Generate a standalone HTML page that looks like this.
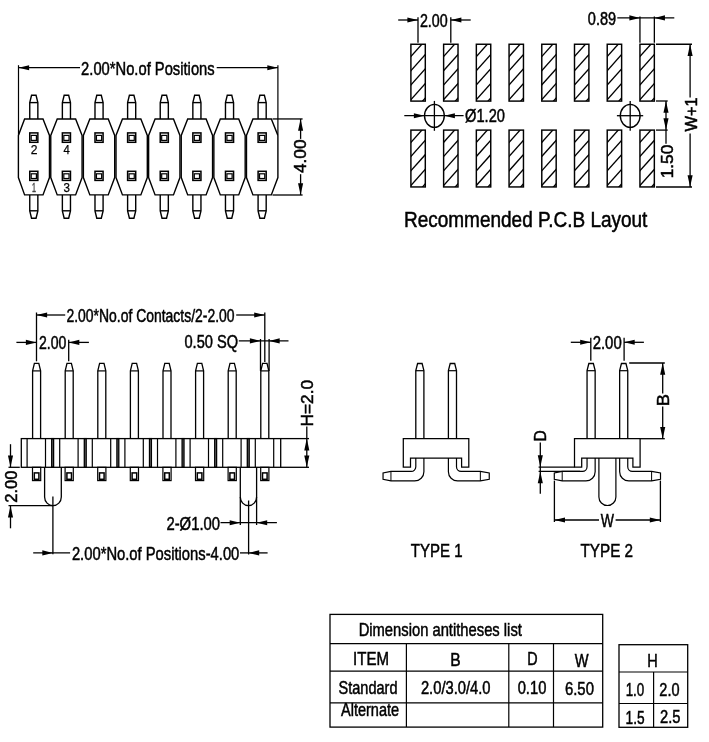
<!DOCTYPE html>
<html><head><meta charset="utf-8"><title>Pin header drawing</title>
<style>html,body{margin:0;padding:0;background:#fff}svg{display:block;will-change:transform;opacity:0.999}text{font-family:"Liberation Sans",Arial,sans-serif;stroke:#000;stroke-width:0.5px}</style>
</head><body>
<svg width="709" height="742" viewBox="0 0 709 742">
<rect width="709" height="742" fill="#fff"/>
<path d="M24.60 118.95 L43.00 118.95 L49.46 135.50 L49.46 177.60 L43.00 194.90 L24.60 194.90 L18.40 177.60 L18.40 135.50 Z" fill="none" stroke="#000" stroke-width="1.4" stroke-linejoin="miter"/>
<path d="M29.75 118.95 L29.75 102.60 L31.55 95.30 L36.05 95.30 L37.85 102.60 L37.85 118.95" fill="none" stroke="#000" stroke-width="1.4" stroke-linejoin="miter"/>
<line x1="29.75" y1="102.60" x2="37.85" y2="102.60" stroke="#000" stroke-width="1.4"/>
<path d="M29.75 194.90 L29.75 210.80 L31.55 218.20 L36.05 218.20 L37.85 210.80 L37.85 194.90" fill="none" stroke="#000" stroke-width="1.4" stroke-linejoin="miter"/>
<line x1="29.75" y1="210.80" x2="37.85" y2="210.80" stroke="#000" stroke-width="1.4"/>
<rect x="29.75" y="132.90" width="8.10" height="9.40" fill="#fff" stroke="#000" stroke-width="1.5"/>
<rect x="31.20" y="135.40" width="5.20" height="5.00" fill="#fff" stroke="#000" stroke-width="1.2"/>
<rect x="29.75" y="171.30" width="8.10" height="9.10" fill="#fff" stroke="#000" stroke-width="1.5"/>
<rect x="31.20" y="173.80" width="5.20" height="4.70" fill="#fff" stroke="#000" stroke-width="1.2"/>
<path d="M57.22 118.95 L75.62 118.95 L82.08 135.50 L82.08 177.60 L75.62 194.90 L57.22 194.90 L50.76 177.60 L50.76 135.50 Z" fill="none" stroke="#000" stroke-width="1.4" stroke-linejoin="miter"/>
<path d="M62.37 118.95 L62.37 102.60 L64.17 95.30 L68.67 95.30 L70.47 102.60 L70.47 118.95" fill="none" stroke="#000" stroke-width="1.4" stroke-linejoin="miter"/>
<line x1="62.37" y1="102.60" x2="70.47" y2="102.60" stroke="#000" stroke-width="1.4"/>
<path d="M62.37 194.90 L62.37 210.80 L64.17 218.20 L68.67 218.20 L70.47 210.80 L70.47 194.90" fill="none" stroke="#000" stroke-width="1.4" stroke-linejoin="miter"/>
<line x1="62.37" y1="210.80" x2="70.47" y2="210.80" stroke="#000" stroke-width="1.4"/>
<rect x="62.37" y="132.90" width="8.10" height="9.40" fill="#fff" stroke="#000" stroke-width="1.5"/>
<rect x="63.82" y="135.40" width="5.20" height="5.00" fill="#fff" stroke="#000" stroke-width="1.2"/>
<rect x="62.37" y="171.30" width="8.10" height="9.10" fill="#fff" stroke="#000" stroke-width="1.5"/>
<rect x="63.82" y="173.80" width="5.20" height="4.70" fill="#fff" stroke="#000" stroke-width="1.2"/>
<path d="M89.84 118.95 L108.24 118.95 L114.70 135.50 L114.70 177.60 L108.24 194.90 L89.84 194.90 L83.38 177.60 L83.38 135.50 Z" fill="none" stroke="#000" stroke-width="1.4" stroke-linejoin="miter"/>
<path d="M94.99 118.95 L94.99 102.60 L96.79 95.30 L101.29 95.30 L103.09 102.60 L103.09 118.95" fill="none" stroke="#000" stroke-width="1.4" stroke-linejoin="miter"/>
<line x1="94.99" y1="102.60" x2="103.09" y2="102.60" stroke="#000" stroke-width="1.4"/>
<path d="M94.99 194.90 L94.99 210.80 L96.79 218.20 L101.29 218.20 L103.09 210.80 L103.09 194.90" fill="none" stroke="#000" stroke-width="1.4" stroke-linejoin="miter"/>
<line x1="94.99" y1="210.80" x2="103.09" y2="210.80" stroke="#000" stroke-width="1.4"/>
<rect x="94.99" y="132.90" width="8.10" height="9.40" fill="#fff" stroke="#000" stroke-width="1.5"/>
<rect x="96.44" y="135.40" width="5.20" height="5.00" fill="#fff" stroke="#000" stroke-width="1.2"/>
<rect x="94.99" y="171.30" width="8.10" height="9.10" fill="#fff" stroke="#000" stroke-width="1.5"/>
<rect x="96.44" y="173.80" width="5.20" height="4.70" fill="#fff" stroke="#000" stroke-width="1.2"/>
<path d="M122.46 118.95 L140.86 118.95 L147.32 135.50 L147.32 177.60 L140.86 194.90 L122.46 194.90 L116.00 177.60 L116.00 135.50 Z" fill="none" stroke="#000" stroke-width="1.4" stroke-linejoin="miter"/>
<path d="M127.61 118.95 L127.61 102.60 L129.41 95.30 L133.91 95.30 L135.71 102.60 L135.71 118.95" fill="none" stroke="#000" stroke-width="1.4" stroke-linejoin="miter"/>
<line x1="127.61" y1="102.60" x2="135.71" y2="102.60" stroke="#000" stroke-width="1.4"/>
<path d="M127.61 194.90 L127.61 210.80 L129.41 218.20 L133.91 218.20 L135.71 210.80 L135.71 194.90" fill="none" stroke="#000" stroke-width="1.4" stroke-linejoin="miter"/>
<line x1="127.61" y1="210.80" x2="135.71" y2="210.80" stroke="#000" stroke-width="1.4"/>
<rect x="127.61" y="132.90" width="8.10" height="9.40" fill="#fff" stroke="#000" stroke-width="1.5"/>
<rect x="129.06" y="135.40" width="5.20" height="5.00" fill="#fff" stroke="#000" stroke-width="1.2"/>
<rect x="127.61" y="171.30" width="8.10" height="9.10" fill="#fff" stroke="#000" stroke-width="1.5"/>
<rect x="129.06" y="173.80" width="5.20" height="4.70" fill="#fff" stroke="#000" stroke-width="1.2"/>
<path d="M155.08 118.95 L173.48 118.95 L179.94 135.50 L179.94 177.60 L173.48 194.90 L155.08 194.90 L148.62 177.60 L148.62 135.50 Z" fill="none" stroke="#000" stroke-width="1.4" stroke-linejoin="miter"/>
<path d="M160.23 118.95 L160.23 102.60 L162.03 95.30 L166.53 95.30 L168.33 102.60 L168.33 118.95" fill="none" stroke="#000" stroke-width="1.4" stroke-linejoin="miter"/>
<line x1="160.23" y1="102.60" x2="168.33" y2="102.60" stroke="#000" stroke-width="1.4"/>
<path d="M160.23 194.90 L160.23 210.80 L162.03 218.20 L166.53 218.20 L168.33 210.80 L168.33 194.90" fill="none" stroke="#000" stroke-width="1.4" stroke-linejoin="miter"/>
<line x1="160.23" y1="210.80" x2="168.33" y2="210.80" stroke="#000" stroke-width="1.4"/>
<rect x="160.23" y="132.90" width="8.10" height="9.40" fill="#fff" stroke="#000" stroke-width="1.5"/>
<rect x="161.68" y="135.40" width="5.20" height="5.00" fill="#fff" stroke="#000" stroke-width="1.2"/>
<rect x="160.23" y="171.30" width="8.10" height="9.10" fill="#fff" stroke="#000" stroke-width="1.5"/>
<rect x="161.68" y="173.80" width="5.20" height="4.70" fill="#fff" stroke="#000" stroke-width="1.2"/>
<path d="M187.70 118.95 L206.10 118.95 L212.56 135.50 L212.56 177.60 L206.10 194.90 L187.70 194.90 L181.24 177.60 L181.24 135.50 Z" fill="none" stroke="#000" stroke-width="1.4" stroke-linejoin="miter"/>
<path d="M192.85 118.95 L192.85 102.60 L194.65 95.30 L199.15 95.30 L200.95 102.60 L200.95 118.95" fill="none" stroke="#000" stroke-width="1.4" stroke-linejoin="miter"/>
<line x1="192.85" y1="102.60" x2="200.95" y2="102.60" stroke="#000" stroke-width="1.4"/>
<path d="M192.85 194.90 L192.85 210.80 L194.65 218.20 L199.15 218.20 L200.95 210.80 L200.95 194.90" fill="none" stroke="#000" stroke-width="1.4" stroke-linejoin="miter"/>
<line x1="192.85" y1="210.80" x2="200.95" y2="210.80" stroke="#000" stroke-width="1.4"/>
<rect x="192.85" y="132.90" width="8.10" height="9.40" fill="#fff" stroke="#000" stroke-width="1.5"/>
<rect x="194.30" y="135.40" width="5.20" height="5.00" fill="#fff" stroke="#000" stroke-width="1.2"/>
<rect x="192.85" y="171.30" width="8.10" height="9.10" fill="#fff" stroke="#000" stroke-width="1.5"/>
<rect x="194.30" y="173.80" width="5.20" height="4.70" fill="#fff" stroke="#000" stroke-width="1.2"/>
<path d="M220.32 118.95 L238.72 118.95 L245.18 135.50 L245.18 177.60 L238.72 194.90 L220.32 194.90 L213.86 177.60 L213.86 135.50 Z" fill="none" stroke="#000" stroke-width="1.4" stroke-linejoin="miter"/>
<path d="M225.47 118.95 L225.47 102.60 L227.27 95.30 L231.77 95.30 L233.57 102.60 L233.57 118.95" fill="none" stroke="#000" stroke-width="1.4" stroke-linejoin="miter"/>
<line x1="225.47" y1="102.60" x2="233.57" y2="102.60" stroke="#000" stroke-width="1.4"/>
<path d="M225.47 194.90 L225.47 210.80 L227.27 218.20 L231.77 218.20 L233.57 210.80 L233.57 194.90" fill="none" stroke="#000" stroke-width="1.4" stroke-linejoin="miter"/>
<line x1="225.47" y1="210.80" x2="233.57" y2="210.80" stroke="#000" stroke-width="1.4"/>
<rect x="225.47" y="132.90" width="8.10" height="9.40" fill="#fff" stroke="#000" stroke-width="1.5"/>
<rect x="226.92" y="135.40" width="5.20" height="5.00" fill="#fff" stroke="#000" stroke-width="1.2"/>
<rect x="225.47" y="171.30" width="8.10" height="9.10" fill="#fff" stroke="#000" stroke-width="1.5"/>
<rect x="226.92" y="173.80" width="5.20" height="4.70" fill="#fff" stroke="#000" stroke-width="1.2"/>
<path d="M252.94 118.95 L271.34 118.95 L277.90 135.50 L277.90 177.60 L271.34 194.90 L252.94 194.90 L246.48 177.60 L246.48 135.50 Z" fill="none" stroke="#000" stroke-width="1.4" stroke-linejoin="miter"/>
<path d="M258.09 118.95 L258.09 102.60 L259.89 95.30 L264.39 95.30 L266.19 102.60 L266.19 118.95" fill="none" stroke="#000" stroke-width="1.4" stroke-linejoin="miter"/>
<line x1="258.09" y1="102.60" x2="266.19" y2="102.60" stroke="#000" stroke-width="1.4"/>
<path d="M258.09 194.90 L258.09 210.80 L259.89 218.20 L264.39 218.20 L266.19 210.80 L266.19 194.90" fill="none" stroke="#000" stroke-width="1.4" stroke-linejoin="miter"/>
<line x1="258.09" y1="210.80" x2="266.19" y2="210.80" stroke="#000" stroke-width="1.4"/>
<rect x="258.09" y="132.90" width="8.10" height="9.40" fill="#fff" stroke="#000" stroke-width="1.5"/>
<rect x="259.54" y="135.40" width="5.20" height="5.00" fill="#fff" stroke="#000" stroke-width="1.2"/>
<rect x="258.09" y="171.30" width="8.10" height="9.10" fill="#fff" stroke="#000" stroke-width="1.5"/>
<rect x="259.54" y="173.80" width="5.20" height="4.70" fill="#fff" stroke="#000" stroke-width="1.2"/>
<text x="30.65" y="154.00" font-size="12.5" textLength="6.72" lengthAdjust="spacingAndGlyphs" fill="#000" style="stroke-width:0.25px;stroke:#000">2</text>
<text x="63.60" y="154.00" font-size="12.5" textLength="6.28" lengthAdjust="spacingAndGlyphs" fill="#000" style="stroke-width:0.25px;stroke:#000">4</text>
<text x="31.91" y="192.00" font-size="12.5" textLength="3.99" lengthAdjust="spacingAndGlyphs" fill="#444" style="stroke-width:0.4px;stroke:#444">1</text>
<text x="63.62" y="192.00" font-size="12.5" textLength="6.44" lengthAdjust="spacingAndGlyphs" fill="#000" style="stroke-width:0.25px;stroke:#000">3</text>
<line x1="18.50" y1="65.20" x2="18.50" y2="134.80" stroke="#000" stroke-width="1.2"/>
<line x1="277.90" y1="65.20" x2="277.90" y2="134.80" stroke="#000" stroke-width="1.2"/>
<line x1="18.50" y1="67.70" x2="80.00" y2="67.70" stroke="#000" stroke-width="1.3"/>
<line x1="216.70" y1="67.70" x2="277.90" y2="67.70" stroke="#000" stroke-width="1.3"/>
<polygon points="18.50,67.70 29.10,65.15 29.10,70.25" fill="#000"/>
<polygon points="277.90,67.70 267.30,65.15 267.30,70.25" fill="#000"/>
<text x="81.11" y="74.70" font-size="18.3" textLength="133.54" lengthAdjust="spacingAndGlyphs" fill="#000">2.00*No.of Positions</text>
<line x1="272.50" y1="118.95" x2="302.60" y2="118.95" stroke="#000" stroke-width="1.3"/>
<line x1="272.50" y1="195.00" x2="302.60" y2="195.00" stroke="#000" stroke-width="1.3"/>
<line x1="300.60" y1="118.95" x2="300.60" y2="138.90" stroke="#000" stroke-width="1.3"/>
<line x1="300.60" y1="174.20" x2="300.60" y2="195.00" stroke="#000" stroke-width="1.3"/>
<polygon points="300.60,118.95 298.05,130.75 303.15,130.75" fill="#000"/>
<polygon points="300.60,195.00 298.05,183.20 303.15,183.20" fill="#000"/>
<text transform="translate(306.20 173.04) rotate(-90)" font-size="16.1" textLength="33.56" lengthAdjust="spacingAndGlyphs" fill="#000">4.00</text>
<defs><clipPath id="cp"><rect x="0" y="0" width="14.40" height="56.85"/></clipPath></defs>
<g transform="translate(410.90 44.25)"><g clip-path="url(#cp)"><line x1="-1" y1="13.42" x2="15.40" y2="-4.95" stroke="#000" stroke-width="1.35"/><line x1="-1" y1="27.52" x2="15.40" y2="9.15" stroke="#000" stroke-width="1.35"/><line x1="-1" y1="41.82" x2="15.40" y2="23.45" stroke="#000" stroke-width="1.35"/><line x1="-1" y1="56.52" x2="15.40" y2="38.15" stroke="#000" stroke-width="1.35"/><line x1="-1" y1="71.02" x2="15.40" y2="52.65" stroke="#000" stroke-width="1.35"/></g><rect x="0" y="0" width="14.40" height="56.85" fill="none" stroke="#000" stroke-width="1.45"/></g>
<g transform="translate(443.62 44.25)"><g clip-path="url(#cp)"><line x1="-1" y1="13.42" x2="15.40" y2="-4.95" stroke="#000" stroke-width="1.35"/><line x1="-1" y1="27.52" x2="15.40" y2="9.15" stroke="#000" stroke-width="1.35"/><line x1="-1" y1="41.82" x2="15.40" y2="23.45" stroke="#000" stroke-width="1.35"/><line x1="-1" y1="56.52" x2="15.40" y2="38.15" stroke="#000" stroke-width="1.35"/><line x1="-1" y1="71.02" x2="15.40" y2="52.65" stroke="#000" stroke-width="1.35"/></g><rect x="0" y="0" width="14.40" height="56.85" fill="none" stroke="#000" stroke-width="1.45"/></g>
<g transform="translate(476.34 44.25)"><g clip-path="url(#cp)"><line x1="-1" y1="13.42" x2="15.40" y2="-4.95" stroke="#000" stroke-width="1.35"/><line x1="-1" y1="27.52" x2="15.40" y2="9.15" stroke="#000" stroke-width="1.35"/><line x1="-1" y1="41.82" x2="15.40" y2="23.45" stroke="#000" stroke-width="1.35"/><line x1="-1" y1="56.52" x2="15.40" y2="38.15" stroke="#000" stroke-width="1.35"/><line x1="-1" y1="71.02" x2="15.40" y2="52.65" stroke="#000" stroke-width="1.35"/></g><rect x="0" y="0" width="14.40" height="56.85" fill="none" stroke="#000" stroke-width="1.45"/></g>
<g transform="translate(509.06 44.25)"><g clip-path="url(#cp)"><line x1="-1" y1="13.42" x2="15.40" y2="-4.95" stroke="#000" stroke-width="1.35"/><line x1="-1" y1="27.52" x2="15.40" y2="9.15" stroke="#000" stroke-width="1.35"/><line x1="-1" y1="41.82" x2="15.40" y2="23.45" stroke="#000" stroke-width="1.35"/><line x1="-1" y1="56.52" x2="15.40" y2="38.15" stroke="#000" stroke-width="1.35"/><line x1="-1" y1="71.02" x2="15.40" y2="52.65" stroke="#000" stroke-width="1.35"/></g><rect x="0" y="0" width="14.40" height="56.85" fill="none" stroke="#000" stroke-width="1.45"/></g>
<g transform="translate(541.78 44.25)"><g clip-path="url(#cp)"><line x1="-1" y1="13.42" x2="15.40" y2="-4.95" stroke="#000" stroke-width="1.35"/><line x1="-1" y1="27.52" x2="15.40" y2="9.15" stroke="#000" stroke-width="1.35"/><line x1="-1" y1="41.82" x2="15.40" y2="23.45" stroke="#000" stroke-width="1.35"/><line x1="-1" y1="56.52" x2="15.40" y2="38.15" stroke="#000" stroke-width="1.35"/><line x1="-1" y1="71.02" x2="15.40" y2="52.65" stroke="#000" stroke-width="1.35"/></g><rect x="0" y="0" width="14.40" height="56.85" fill="none" stroke="#000" stroke-width="1.45"/></g>
<g transform="translate(574.50 44.25)"><g clip-path="url(#cp)"><line x1="-1" y1="13.42" x2="15.40" y2="-4.95" stroke="#000" stroke-width="1.35"/><line x1="-1" y1="27.52" x2="15.40" y2="9.15" stroke="#000" stroke-width="1.35"/><line x1="-1" y1="41.82" x2="15.40" y2="23.45" stroke="#000" stroke-width="1.35"/><line x1="-1" y1="56.52" x2="15.40" y2="38.15" stroke="#000" stroke-width="1.35"/><line x1="-1" y1="71.02" x2="15.40" y2="52.65" stroke="#000" stroke-width="1.35"/></g><rect x="0" y="0" width="14.40" height="56.85" fill="none" stroke="#000" stroke-width="1.45"/></g>
<g transform="translate(607.22 44.25)"><g clip-path="url(#cp)"><line x1="-1" y1="13.42" x2="15.40" y2="-4.95" stroke="#000" stroke-width="1.35"/><line x1="-1" y1="27.52" x2="15.40" y2="9.15" stroke="#000" stroke-width="1.35"/><line x1="-1" y1="41.82" x2="15.40" y2="23.45" stroke="#000" stroke-width="1.35"/><line x1="-1" y1="56.52" x2="15.40" y2="38.15" stroke="#000" stroke-width="1.35"/><line x1="-1" y1="71.02" x2="15.40" y2="52.65" stroke="#000" stroke-width="1.35"/></g><rect x="0" y="0" width="14.40" height="56.85" fill="none" stroke="#000" stroke-width="1.45"/></g>
<g transform="translate(639.94 44.25)"><g clip-path="url(#cp)"><line x1="-1" y1="13.42" x2="15.40" y2="-4.95" stroke="#000" stroke-width="1.35"/><line x1="-1" y1="27.52" x2="15.40" y2="9.15" stroke="#000" stroke-width="1.35"/><line x1="-1" y1="41.82" x2="15.40" y2="23.45" stroke="#000" stroke-width="1.35"/><line x1="-1" y1="56.52" x2="15.40" y2="38.15" stroke="#000" stroke-width="1.35"/><line x1="-1" y1="71.02" x2="15.40" y2="52.65" stroke="#000" stroke-width="1.35"/></g><rect x="0" y="0" width="14.40" height="56.85" fill="none" stroke="#000" stroke-width="1.45"/></g>
<g transform="translate(410.90 130.1)"><g clip-path="url(#cp)"><line x1="-1" y1="13.42" x2="15.40" y2="-4.95" stroke="#000" stroke-width="1.35"/><line x1="-1" y1="27.52" x2="15.40" y2="9.15" stroke="#000" stroke-width="1.35"/><line x1="-1" y1="41.82" x2="15.40" y2="23.45" stroke="#000" stroke-width="1.35"/><line x1="-1" y1="56.52" x2="15.40" y2="38.15" stroke="#000" stroke-width="1.35"/><line x1="-1" y1="71.02" x2="15.40" y2="52.65" stroke="#000" stroke-width="1.35"/></g><rect x="0" y="0" width="14.40" height="56.85" fill="none" stroke="#000" stroke-width="1.45"/></g>
<g transform="translate(443.62 130.1)"><g clip-path="url(#cp)"><line x1="-1" y1="13.42" x2="15.40" y2="-4.95" stroke="#000" stroke-width="1.35"/><line x1="-1" y1="27.52" x2="15.40" y2="9.15" stroke="#000" stroke-width="1.35"/><line x1="-1" y1="41.82" x2="15.40" y2="23.45" stroke="#000" stroke-width="1.35"/><line x1="-1" y1="56.52" x2="15.40" y2="38.15" stroke="#000" stroke-width="1.35"/><line x1="-1" y1="71.02" x2="15.40" y2="52.65" stroke="#000" stroke-width="1.35"/></g><rect x="0" y="0" width="14.40" height="56.85" fill="none" stroke="#000" stroke-width="1.45"/></g>
<g transform="translate(476.34 130.1)"><g clip-path="url(#cp)"><line x1="-1" y1="13.42" x2="15.40" y2="-4.95" stroke="#000" stroke-width="1.35"/><line x1="-1" y1="27.52" x2="15.40" y2="9.15" stroke="#000" stroke-width="1.35"/><line x1="-1" y1="41.82" x2="15.40" y2="23.45" stroke="#000" stroke-width="1.35"/><line x1="-1" y1="56.52" x2="15.40" y2="38.15" stroke="#000" stroke-width="1.35"/><line x1="-1" y1="71.02" x2="15.40" y2="52.65" stroke="#000" stroke-width="1.35"/></g><rect x="0" y="0" width="14.40" height="56.85" fill="none" stroke="#000" stroke-width="1.45"/></g>
<g transform="translate(509.06 130.1)"><g clip-path="url(#cp)"><line x1="-1" y1="13.42" x2="15.40" y2="-4.95" stroke="#000" stroke-width="1.35"/><line x1="-1" y1="27.52" x2="15.40" y2="9.15" stroke="#000" stroke-width="1.35"/><line x1="-1" y1="41.82" x2="15.40" y2="23.45" stroke="#000" stroke-width="1.35"/><line x1="-1" y1="56.52" x2="15.40" y2="38.15" stroke="#000" stroke-width="1.35"/><line x1="-1" y1="71.02" x2="15.40" y2="52.65" stroke="#000" stroke-width="1.35"/></g><rect x="0" y="0" width="14.40" height="56.85" fill="none" stroke="#000" stroke-width="1.45"/></g>
<g transform="translate(541.78 130.1)"><g clip-path="url(#cp)"><line x1="-1" y1="13.42" x2="15.40" y2="-4.95" stroke="#000" stroke-width="1.35"/><line x1="-1" y1="27.52" x2="15.40" y2="9.15" stroke="#000" stroke-width="1.35"/><line x1="-1" y1="41.82" x2="15.40" y2="23.45" stroke="#000" stroke-width="1.35"/><line x1="-1" y1="56.52" x2="15.40" y2="38.15" stroke="#000" stroke-width="1.35"/><line x1="-1" y1="71.02" x2="15.40" y2="52.65" stroke="#000" stroke-width="1.35"/></g><rect x="0" y="0" width="14.40" height="56.85" fill="none" stroke="#000" stroke-width="1.45"/></g>
<g transform="translate(574.50 130.1)"><g clip-path="url(#cp)"><line x1="-1" y1="13.42" x2="15.40" y2="-4.95" stroke="#000" stroke-width="1.35"/><line x1="-1" y1="27.52" x2="15.40" y2="9.15" stroke="#000" stroke-width="1.35"/><line x1="-1" y1="41.82" x2="15.40" y2="23.45" stroke="#000" stroke-width="1.35"/><line x1="-1" y1="56.52" x2="15.40" y2="38.15" stroke="#000" stroke-width="1.35"/><line x1="-1" y1="71.02" x2="15.40" y2="52.65" stroke="#000" stroke-width="1.35"/></g><rect x="0" y="0" width="14.40" height="56.85" fill="none" stroke="#000" stroke-width="1.45"/></g>
<g transform="translate(607.22 130.1)"><g clip-path="url(#cp)"><line x1="-1" y1="13.42" x2="15.40" y2="-4.95" stroke="#000" stroke-width="1.35"/><line x1="-1" y1="27.52" x2="15.40" y2="9.15" stroke="#000" stroke-width="1.35"/><line x1="-1" y1="41.82" x2="15.40" y2="23.45" stroke="#000" stroke-width="1.35"/><line x1="-1" y1="56.52" x2="15.40" y2="38.15" stroke="#000" stroke-width="1.35"/><line x1="-1" y1="71.02" x2="15.40" y2="52.65" stroke="#000" stroke-width="1.35"/></g><rect x="0" y="0" width="14.40" height="56.85" fill="none" stroke="#000" stroke-width="1.45"/></g>
<g transform="translate(639.94 130.1)"><g clip-path="url(#cp)"><line x1="-1" y1="13.42" x2="15.40" y2="-4.95" stroke="#000" stroke-width="1.35"/><line x1="-1" y1="27.52" x2="15.40" y2="9.15" stroke="#000" stroke-width="1.35"/><line x1="-1" y1="41.82" x2="15.40" y2="23.45" stroke="#000" stroke-width="1.35"/><line x1="-1" y1="56.52" x2="15.40" y2="38.15" stroke="#000" stroke-width="1.35"/><line x1="-1" y1="71.02" x2="15.40" y2="52.65" stroke="#000" stroke-width="1.35"/></g><rect x="0" y="0" width="14.40" height="56.85" fill="none" stroke="#000" stroke-width="1.45"/></g>
<line x1="418.00" y1="17.20" x2="418.00" y2="42.80" stroke="#000" stroke-width="1.3"/>
<line x1="450.80" y1="17.20" x2="450.80" y2="42.80" stroke="#000" stroke-width="1.3"/>
<line x1="398.20" y1="20.00" x2="418.00" y2="20.00" stroke="#000" stroke-width="1.3"/>
<line x1="450.80" y1="20.00" x2="470.70" y2="20.00" stroke="#000" stroke-width="1.3"/>
<polygon points="418.00,20.00 407.40,17.45 407.40,22.55" fill="#000"/>
<polygon points="450.80,20.00 461.40,17.45 461.40,22.55" fill="#000"/>
<text x="419.94" y="26.80" font-size="18.3" textLength="27.77" lengthAdjust="spacingAndGlyphs" fill="#000">2.00</text>
<line x1="639.95" y1="16.40" x2="639.95" y2="42.70" stroke="#000" stroke-width="1.3"/>
<line x1="654.35" y1="16.40" x2="654.35" y2="42.70" stroke="#000" stroke-width="1.3"/>
<line x1="617.30" y1="17.90" x2="674.30" y2="17.90" stroke="#000" stroke-width="1.3"/>
<polygon points="639.95,17.90 629.35,15.35 629.35,20.45" fill="#000"/>
<polygon points="654.35,17.90 664.95,15.35 664.95,20.45" fill="#000"/>
<text x="587.87" y="25.10" font-size="18.3" textLength="28.25" lengthAdjust="spacingAndGlyphs" fill="#000">0.89</text>
<ellipse cx="434.4" cy="115.85" rx="9.9" ry="11.5" fill="none" stroke="#000" stroke-width="1.4"/>
<line x1="434.40" y1="100.90" x2="434.40" y2="130.80" stroke="#000" stroke-width="1.3"/>
<ellipse cx="630.2" cy="115.85" rx="9.9" ry="11.5" fill="none" stroke="#000" stroke-width="1.4"/>
<line x1="630.20" y1="100.90" x2="630.20" y2="130.80" stroke="#000" stroke-width="1.3"/>
<line x1="404.30" y1="115.70" x2="463.60" y2="115.70" stroke="#000" stroke-width="1.3"/>
<polygon points="424.50,115.70 413.90,113.15 413.90,118.25" fill="#000"/>
<polygon points="444.30,115.70 454.90,113.15 454.90,118.25" fill="#000"/>
<line x1="616.90" y1="115.70" x2="643.20" y2="115.70" stroke="#000" stroke-width="1.3"/>
<text x="465.10" y="122.40" font-size="18.3" textLength="39.82" lengthAdjust="spacingAndGlyphs" fill="#000">Ø1.20</text>
<line x1="656.00" y1="101.00" x2="667.70" y2="101.00" stroke="#000" stroke-width="1.3"/>
<line x1="656.00" y1="130.10" x2="667.70" y2="130.10" stroke="#000" stroke-width="1.3"/>
<line x1="666.00" y1="101.00" x2="666.00" y2="143.80" stroke="#000" stroke-width="1.3"/>
<polygon points="666.00,101.00 663.45,112.80 668.55,112.80" fill="#000"/>
<polygon points="666.00,130.10 663.45,118.30 668.55,118.30" fill="#000"/>
<text transform="translate(672.70 178.35) rotate(-90)" font-size="16.1" textLength="33.67" lengthAdjust="spacingAndGlyphs" fill="#000">1.50</text>
<line x1="656.00" y1="44.25" x2="692.00" y2="44.25" stroke="#000" stroke-width="1.3"/>
<line x1="656.00" y1="187.00" x2="692.00" y2="187.00" stroke="#000" stroke-width="1.3"/>
<line x1="690.10" y1="44.25" x2="690.10" y2="97.50" stroke="#000" stroke-width="1.3"/>
<line x1="690.10" y1="133.50" x2="690.10" y2="187.00" stroke="#000" stroke-width="1.3"/>
<polygon points="690.10,44.25 687.55,56.05 692.65,56.05" fill="#000"/>
<polygon points="690.10,187.00 687.55,175.20 692.65,175.20" fill="#000"/>
<text transform="translate(696.60 131.53) rotate(-90)" font-size="16.1" textLength="34.19" lengthAdjust="spacingAndGlyphs" fill="#000">W+1</text>
<text x="403.98" y="226.60" font-size="21.3" textLength="243.41" lengthAdjust="spacingAndGlyphs" fill="#000">Recommended P.C.B Layout</text>
<path d="M32.60 438.60 L32.60 370.90 L34.40 363.30 L38.80 363.30 L40.60 370.90 L40.60 438.60" fill="none" stroke="#000" stroke-width="1.3" stroke-linejoin="miter"/>
<line x1="32.60" y1="370.90" x2="40.60" y2="370.90" stroke="#000" stroke-width="1.2"/>
<rect x="51.70" y="438.60" width="1.90" height="28.70" fill="#777" stroke="#000" stroke-width="1.3"/>
<line x1="27.10" y1="438.60" x2="27.10" y2="467.30" stroke="#000" stroke-width="1.2"/>
<line x1="45.50" y1="438.60" x2="45.50" y2="467.30" stroke="#000" stroke-width="1.2"/>
<rect x="32.50" y="467.30" width="8.20" height="13.30" fill="none" stroke="#000" stroke-width="1.2"/>
<rect x="34.30" y="472.90" width="4.60" height="6.40" fill="none" stroke="#000" stroke-width="1.5"/>
<path d="M65.20 438.60 L65.20 370.90 L67.00 363.30 L71.40 363.30 L73.20 370.90 L73.20 438.60" fill="none" stroke="#000" stroke-width="1.3" stroke-linejoin="miter"/>
<line x1="65.20" y1="370.90" x2="73.20" y2="370.90" stroke="#000" stroke-width="1.2"/>
<rect x="84.30" y="438.60" width="1.90" height="28.70" fill="#777" stroke="#000" stroke-width="1.3"/>
<line x1="59.70" y1="438.60" x2="59.70" y2="467.30" stroke="#000" stroke-width="1.2"/>
<line x1="78.10" y1="438.60" x2="78.10" y2="467.30" stroke="#000" stroke-width="1.2"/>
<rect x="65.10" y="467.30" width="8.20" height="13.30" fill="none" stroke="#000" stroke-width="1.2"/>
<rect x="66.90" y="472.90" width="4.60" height="6.40" fill="none" stroke="#000" stroke-width="1.5"/>
<path d="M97.80 438.60 L97.80 370.90 L99.60 363.30 L104.00 363.30 L105.80 370.90 L105.80 438.60" fill="none" stroke="#000" stroke-width="1.3" stroke-linejoin="miter"/>
<line x1="97.80" y1="370.90" x2="105.80" y2="370.90" stroke="#000" stroke-width="1.2"/>
<rect x="116.90" y="438.60" width="1.90" height="28.70" fill="#777" stroke="#000" stroke-width="1.3"/>
<line x1="92.30" y1="438.60" x2="92.30" y2="467.30" stroke="#000" stroke-width="1.2"/>
<line x1="110.70" y1="438.60" x2="110.70" y2="467.30" stroke="#000" stroke-width="1.2"/>
<rect x="97.70" y="467.30" width="8.20" height="13.30" fill="none" stroke="#000" stroke-width="1.2"/>
<rect x="99.50" y="472.90" width="4.60" height="6.40" fill="none" stroke="#000" stroke-width="1.5"/>
<path d="M130.40 438.60 L130.40 370.90 L132.20 363.30 L136.60 363.30 L138.40 370.90 L138.40 438.60" fill="none" stroke="#000" stroke-width="1.3" stroke-linejoin="miter"/>
<line x1="130.40" y1="370.90" x2="138.40" y2="370.90" stroke="#000" stroke-width="1.2"/>
<rect x="149.50" y="438.60" width="1.90" height="28.70" fill="#777" stroke="#000" stroke-width="1.3"/>
<line x1="124.90" y1="438.60" x2="124.90" y2="467.30" stroke="#000" stroke-width="1.2"/>
<line x1="143.30" y1="438.60" x2="143.30" y2="467.30" stroke="#000" stroke-width="1.2"/>
<rect x="130.30" y="467.30" width="8.20" height="13.30" fill="none" stroke="#000" stroke-width="1.2"/>
<rect x="132.10" y="472.90" width="4.60" height="6.40" fill="none" stroke="#000" stroke-width="1.5"/>
<path d="M163.00 438.60 L163.00 370.90 L164.80 363.30 L169.20 363.30 L171.00 370.90 L171.00 438.60" fill="none" stroke="#000" stroke-width="1.3" stroke-linejoin="miter"/>
<line x1="163.00" y1="370.90" x2="171.00" y2="370.90" stroke="#000" stroke-width="1.2"/>
<rect x="182.10" y="438.60" width="1.90" height="28.70" fill="#777" stroke="#000" stroke-width="1.3"/>
<line x1="157.50" y1="438.60" x2="157.50" y2="467.30" stroke="#000" stroke-width="1.2"/>
<line x1="175.90" y1="438.60" x2="175.90" y2="467.30" stroke="#000" stroke-width="1.2"/>
<rect x="162.90" y="467.30" width="8.20" height="13.30" fill="none" stroke="#000" stroke-width="1.2"/>
<rect x="164.70" y="472.90" width="4.60" height="6.40" fill="none" stroke="#000" stroke-width="1.5"/>
<path d="M195.60 438.60 L195.60 370.90 L197.40 363.30 L201.80 363.30 L203.60 370.90 L203.60 438.60" fill="none" stroke="#000" stroke-width="1.3" stroke-linejoin="miter"/>
<line x1="195.60" y1="370.90" x2="203.60" y2="370.90" stroke="#000" stroke-width="1.2"/>
<rect x="214.70" y="438.60" width="1.90" height="28.70" fill="#777" stroke="#000" stroke-width="1.3"/>
<line x1="190.10" y1="438.60" x2="190.10" y2="467.30" stroke="#000" stroke-width="1.2"/>
<line x1="208.50" y1="438.60" x2="208.50" y2="467.30" stroke="#000" stroke-width="1.2"/>
<rect x="195.50" y="467.30" width="8.20" height="13.30" fill="none" stroke="#000" stroke-width="1.2"/>
<rect x="197.30" y="472.90" width="4.60" height="6.40" fill="none" stroke="#000" stroke-width="1.5"/>
<path d="M228.20 438.60 L228.20 370.90 L230.00 363.30 L234.40 363.30 L236.20 370.90 L236.20 438.60" fill="none" stroke="#000" stroke-width="1.3" stroke-linejoin="miter"/>
<line x1="228.20" y1="370.90" x2="236.20" y2="370.90" stroke="#000" stroke-width="1.2"/>
<rect x="247.30" y="438.60" width="1.90" height="28.70" fill="#777" stroke="#000" stroke-width="1.3"/>
<line x1="222.70" y1="438.60" x2="222.70" y2="467.30" stroke="#000" stroke-width="1.2"/>
<line x1="241.10" y1="438.60" x2="241.10" y2="467.30" stroke="#000" stroke-width="1.2"/>
<rect x="228.10" y="467.30" width="8.20" height="13.30" fill="none" stroke="#000" stroke-width="1.2"/>
<rect x="229.90" y="472.90" width="4.60" height="6.40" fill="none" stroke="#000" stroke-width="1.5"/>
<path d="M260.80 438.60 L260.80 370.90 L262.60 363.30 L267.00 363.30 L268.80 370.90 L268.80 438.60" fill="none" stroke="#000" stroke-width="1.3" stroke-linejoin="miter"/>
<line x1="260.80" y1="370.90" x2="268.80" y2="370.90" stroke="#000" stroke-width="1.2"/>
<line x1="255.30" y1="438.60" x2="255.30" y2="467.30" stroke="#000" stroke-width="1.2"/>
<line x1="273.70" y1="438.60" x2="273.70" y2="467.30" stroke="#000" stroke-width="1.2"/>
<rect x="260.70" y="467.30" width="8.20" height="13.30" fill="none" stroke="#000" stroke-width="1.2"/>
<rect x="262.50" y="472.90" width="4.60" height="6.40" fill="none" stroke="#000" stroke-width="1.5"/>
<rect x="21.30" y="438.60" width="259.40" height="28.70" fill="none" stroke="#000" stroke-width="1.3"/>
<path d="M44.60 467.3 L44.60 497 A8.35 8.7 0 0 0 61.30 497 L61.30 467.3" fill="none" stroke="#000" stroke-width="1.3"/>
<path d="M240.30 467.3 L240.30 497 A8.15 8.7 0 0 0 256.60 497 L256.60 467.3" fill="none" stroke="#000" stroke-width="1.3"/>
<line x1="36.50" y1="312.50" x2="36.50" y2="361.30" stroke="#000" stroke-width="1.3"/>
<line x1="264.80" y1="312.60" x2="264.80" y2="362.00" stroke="#000" stroke-width="1.3"/>
<line x1="36.50" y1="315.00" x2="65.20" y2="315.00" stroke="#000" stroke-width="1.3"/>
<line x1="236.20" y1="315.00" x2="264.80" y2="315.00" stroke="#000" stroke-width="1.3"/>
<polygon points="36.50,315.00 47.10,312.45 47.10,317.55" fill="#000"/>
<polygon points="264.80,315.00 254.20,312.45 254.20,317.55" fill="#000"/>
<text x="66.45" y="322.00" font-size="18.3" textLength="168.13" lengthAdjust="spacingAndGlyphs" fill="#000">2.00*No.of Contacts/2-2.00</text>
<line x1="68.70" y1="339.70" x2="68.70" y2="361.30" stroke="#000" stroke-width="1.3"/>
<line x1="16.40" y1="342.40" x2="36.50" y2="342.40" stroke="#000" stroke-width="1.3"/>
<line x1="68.70" y1="342.40" x2="88.90" y2="342.40" stroke="#000" stroke-width="1.3"/>
<polygon points="36.50,342.40 25.90,339.85 25.90,344.95" fill="#000"/>
<polygon points="68.70,342.40 79.30,339.85 79.30,344.95" fill="#000"/>
<text x="38.95" y="349.30" font-size="18.3" textLength="27.35" lengthAdjust="spacingAndGlyphs" fill="#000">2.00</text>
<line x1="260.50" y1="339.00" x2="260.50" y2="370.90" stroke="#000" stroke-width="1.3"/>
<line x1="269.10" y1="339.00" x2="269.10" y2="370.90" stroke="#000" stroke-width="1.3"/>
<line x1="238.80" y1="340.90" x2="288.50" y2="340.90" stroke="#000" stroke-width="1.3"/>
<polygon points="260.50,340.90 249.90,338.35 249.90,343.45" fill="#000"/>
<polygon points="269.10,340.90 279.70,338.35 279.70,343.45" fill="#000"/>
<text x="184.47" y="347.90" font-size="18.3" textLength="53.60" lengthAdjust="spacingAndGlyphs" fill="#000">0.50 SQ</text>
<line x1="280.70" y1="438.60" x2="309.00" y2="438.60" stroke="#000" stroke-width="1.3"/>
<line x1="280.70" y1="467.30" x2="309.00" y2="467.30" stroke="#000" stroke-width="1.3"/>
<line x1="306.80" y1="426.50" x2="306.80" y2="467.30" stroke="#000" stroke-width="1.3"/>
<polygon points="306.80,438.60 304.25,450.40 309.35,450.40" fill="#000"/>
<polygon points="306.80,467.30 304.25,455.50 309.35,455.50" fill="#000"/>
<text transform="translate(313.20 426.48) rotate(-90)" font-size="16.1" textLength="46.60" lengthAdjust="spacingAndGlyphs" fill="#000">H=2.0</text>
<line x1="8.50" y1="467.30" x2="19.80" y2="467.30" stroke="#000" stroke-width="1.3"/>
<line x1="8.50" y1="505.70" x2="53.00" y2="505.70" stroke="#000" stroke-width="1.3"/>
<line x1="10.50" y1="444.20" x2="10.50" y2="467.30" stroke="#000" stroke-width="1.3"/>
<line x1="10.50" y1="505.70" x2="10.50" y2="528.30" stroke="#000" stroke-width="1.3"/>
<polygon points="10.50,467.30 7.95,455.50 13.05,455.50" fill="#000"/>
<polygon points="10.50,505.70 7.95,517.50 13.05,517.50" fill="#000"/>
<text transform="translate(16.80 502.78) rotate(-90)" font-size="16.1" textLength="32.38" lengthAdjust="spacingAndGlyphs" fill="#000">2.00</text>
<line x1="52.90" y1="496.50" x2="52.90" y2="554.30" stroke="#000" stroke-width="1.3"/>
<line x1="248.60" y1="500.50" x2="248.60" y2="554.50" stroke="#000" stroke-width="1.3"/>
<line x1="33.20" y1="552.90" x2="70.10" y2="552.90" stroke="#000" stroke-width="1.3"/>
<line x1="240.00" y1="552.90" x2="267.60" y2="552.90" stroke="#000" stroke-width="1.3"/>
<polygon points="52.90,552.90 42.30,550.35 42.30,555.45" fill="#000"/>
<polygon points="248.60,552.90 259.20,550.35 259.20,555.45" fill="#000"/>
<text x="71.91" y="560.30" font-size="18.3" textLength="167.40" lengthAdjust="spacingAndGlyphs" fill="#000">2.00*No.of Positions-4.00</text>
<line x1="240.30" y1="497.00" x2="240.30" y2="525.00" stroke="#000" stroke-width="1.3"/>
<line x1="256.60" y1="497.00" x2="256.60" y2="525.00" stroke="#000" stroke-width="1.3"/>
<line x1="220.50" y1="522.70" x2="276.90" y2="522.70" stroke="#000" stroke-width="1.3"/>
<polygon points="240.30,522.70 229.70,520.15 229.70,525.25" fill="#000"/>
<polygon points="256.60,522.70 267.20,520.15 267.20,525.25" fill="#000"/>
<text x="166.41" y="530.00" font-size="18.3" textLength="53.61" lengthAdjust="spacingAndGlyphs" fill="#000">2-Ø1.00</text>
<path d="M415.80 438.50 L415.80 370.70 L417.60 363.50 L422.10 363.50 L423.90 370.70 L423.90 438.50" fill="none" stroke="#000" stroke-width="1.3" stroke-linejoin="miter"/>
<line x1="415.80" y1="370.70" x2="423.90" y2="370.70" stroke="#000" stroke-width="1.2"/>
<path d="M448.40 438.50 L448.40 370.70 L450.20 363.50 L454.70 363.50 L456.50 370.70 L456.50 438.50" fill="none" stroke="#000" stroke-width="1.3" stroke-linejoin="miter"/>
<line x1="448.40" y1="370.70" x2="456.50" y2="370.70" stroke="#000" stroke-width="1.2"/>
<path d="M403.30 438.50 L468.80 438.50 L468.80 467.20 L461.60 467.20 L461.60 458.10 L410.50 458.10 L410.50 467.20 L403.30 467.20 Z" fill="none" stroke="#000" stroke-width="1.25" stroke-linejoin="miter"/>
<path d="M415.80 458.1 L415.80 466.8 A4.6 4.6 0 0 1 411.20 471.4 L390.95 471.4 L383.05 473 L383.05 479.3 L390.95 480.9 L414.70 480.9 A9.2 9.2 0 0 0 423.90 471.7 L423.90 458.1" fill="none" stroke="#000" stroke-width="1.2"/>
<line x1="390.95" y1="471.40" x2="390.95" y2="480.90" stroke="#000" stroke-width="1.0"/>
<path d="M456.50 458.1 L456.50 466.8 A4.6 4.6 0 0 0 461.10 471.4 L480.35 471.4 L489.25 473 L489.25 479.3 L480.35 480.9 L457.60 480.9 A9.2 9.2 0 0 1 448.40 471.7 L448.40 458.1" fill="none" stroke="#000" stroke-width="1.2"/>
<line x1="480.35" y1="471.40" x2="480.35" y2="480.90" stroke="#000" stroke-width="1.0"/>
<path d="M587.05 438.50 L587.05 370.70 L588.85 363.50 L593.35 363.50 L595.15 370.70 L595.15 438.50" fill="none" stroke="#000" stroke-width="1.3" stroke-linejoin="miter"/>
<line x1="587.05" y1="370.70" x2="595.15" y2="370.70" stroke="#000" stroke-width="1.2"/>
<path d="M619.65 438.50 L619.65 370.70 L621.45 363.50 L625.95 363.50 L627.75 370.70 L627.75 438.50" fill="none" stroke="#000" stroke-width="1.3" stroke-linejoin="miter"/>
<line x1="619.65" y1="370.70" x2="627.75" y2="370.70" stroke="#000" stroke-width="1.2"/>
<path d="M574.50 438.50 L640.10 438.50 L640.10 467.20 L632.90 467.20 L632.90 458.10 L581.70 458.10 L581.70 467.20 L574.50 467.20 Z" fill="none" stroke="#000" stroke-width="1.25" stroke-linejoin="miter"/>
<path d="M587.05 458.1 L587.05 466.8 A4.6 4.6 0 0 1 582.45 471.4 L562.20 471.4 L554.30 473 L554.30 479.3 L562.20 480.9 L585.95 480.9 A9.2 9.2 0 0 0 595.15 471.7 L595.15 458.1" fill="none" stroke="#000" stroke-width="1.2"/>
<line x1="562.20" y1="471.40" x2="562.20" y2="480.90" stroke="#000" stroke-width="1.0"/>
<path d="M627.75 458.1 L627.75 466.8 A4.6 4.6 0 0 0 632.35 471.4 L651.60 471.4 L660.50 473 L660.50 479.3 L651.60 480.9 L628.85 480.9 A9.2 9.2 0 0 1 619.65 471.7 L619.65 458.1" fill="none" stroke="#000" stroke-width="1.2"/>
<line x1="651.60" y1="471.40" x2="651.60" y2="480.90" stroke="#000" stroke-width="1.0"/>
<path d="M598.90 458.1 L598.90 496.9 A8.5 8.6 0 0 0 615.90 496.9 L615.90 458.1" fill="none" stroke="#000" stroke-width="1.2"/>
<text x="410.81" y="556.50" font-size="18.3" textLength="51.76" lengthAdjust="spacingAndGlyphs" fill="#000">TYPE 1</text>
<text x="580.51" y="556.50" font-size="18.3" textLength="52.62" lengthAdjust="spacingAndGlyphs" fill="#000">TYPE 2</text>
<line x1="590.80" y1="337.80" x2="590.80" y2="360.80" stroke="#000" stroke-width="1.3"/>
<line x1="624.10" y1="337.80" x2="624.10" y2="360.80" stroke="#000" stroke-width="1.3"/>
<line x1="570.80" y1="342.30" x2="590.80" y2="342.30" stroke="#000" stroke-width="1.3"/>
<line x1="624.10" y1="342.30" x2="643.90" y2="342.30" stroke="#000" stroke-width="1.3"/>
<polygon points="590.80,342.30 580.20,339.75 580.20,344.85" fill="#000"/>
<polygon points="624.10,342.30 634.70,339.75 634.70,344.85" fill="#000"/>
<text x="592.70" y="349.10" font-size="18.3" textLength="29.03" lengthAdjust="spacingAndGlyphs" fill="#000">2.00</text>
<line x1="629.20" y1="363.00" x2="664.80" y2="363.00" stroke="#000" stroke-width="1.3"/>
<line x1="640.10" y1="438.70" x2="664.80" y2="438.70" stroke="#000" stroke-width="1.3"/>
<line x1="662.70" y1="363.00" x2="662.70" y2="393.40" stroke="#000" stroke-width="1.3"/>
<line x1="662.70" y1="406.50" x2="662.70" y2="438.70" stroke="#000" stroke-width="1.3"/>
<polygon points="662.70,363.00 660.15,374.80 665.25,374.80" fill="#000"/>
<polygon points="662.70,438.70 660.15,426.90 665.25,426.90" fill="#000"/>
<text transform="translate(668.50 406.25) rotate(-90)" font-size="16.6" textLength="12.15" lengthAdjust="spacingAndGlyphs" fill="#000">B</text>
<line x1="538.60" y1="467.10" x2="574.50" y2="467.10" stroke="#000" stroke-width="1.3"/>
<line x1="538.60" y1="471.40" x2="580.00" y2="471.40" stroke="#000" stroke-width="1.3"/>
<line x1="540.30" y1="442.60" x2="540.30" y2="493.80" stroke="#000" stroke-width="1.3"/>
<polygon points="540.30,467.10 537.75,455.30 542.85,455.30" fill="#000"/>
<polygon points="540.30,471.40 537.75,483.20 542.85,483.20" fill="#000"/>
<text transform="translate(546.20 441.44) rotate(-90)" font-size="15.6" textLength="11.34" lengthAdjust="spacingAndGlyphs" fill="#000">D</text>
<line x1="554.40" y1="480.60" x2="554.40" y2="522.00" stroke="#000" stroke-width="1.3"/>
<line x1="660.40" y1="480.60" x2="660.40" y2="522.00" stroke="#000" stroke-width="1.3"/>
<line x1="554.40" y1="520.00" x2="599.00" y2="520.00" stroke="#000" stroke-width="1.3"/>
<line x1="615.60" y1="520.00" x2="660.40" y2="520.00" stroke="#000" stroke-width="1.3"/>
<polygon points="554.40,520.00 565.00,517.45 565.00,522.55" fill="#000"/>
<polygon points="660.40,520.00 649.80,517.45 649.80,522.55" fill="#000"/>
<text x="600.78" y="527.20" font-size="18.3" textLength="13.22" lengthAdjust="spacingAndGlyphs" fill="#000">W</text>
<rect x="330.00" y="614.40" width="272.70" height="112.70" fill="none" stroke="#000" stroke-width="1.3"/>
<line x1="330.00" y1="643.60" x2="602.70" y2="643.60" stroke="#000" stroke-width="1.2"/>
<line x1="330.00" y1="671.20" x2="602.70" y2="671.20" stroke="#000" stroke-width="1.2"/>
<line x1="330.00" y1="702.90" x2="602.70" y2="702.90" stroke="#000" stroke-width="1.2"/>
<line x1="406.40" y1="643.60" x2="406.40" y2="727.10" stroke="#000" stroke-width="1.2"/>
<line x1="508.80" y1="643.60" x2="508.80" y2="727.10" stroke="#000" stroke-width="1.2"/>
<line x1="553.50" y1="643.60" x2="553.50" y2="727.10" stroke="#000" stroke-width="1.2"/>
<text x="358.63" y="635.60" font-size="18.1" textLength="163.24" lengthAdjust="spacingAndGlyphs" fill="#000">Dimension antitheses list</text>
<text x="353.06" y="665.40" font-size="18.1" textLength="35.95" lengthAdjust="spacingAndGlyphs" fill="#000">ITEM</text>
<text x="338.60" y="694.40" font-size="18.1" textLength="58.88" lengthAdjust="spacingAndGlyphs" fill="#000">Standard</text>
<text x="341.01" y="716.10" font-size="18.1" textLength="58.15" lengthAdjust="spacingAndGlyphs" fill="#000">Alternate</text>
<text x="450.16" y="665.60" font-size="18.1" textLength="10.40" lengthAdjust="spacingAndGlyphs" fill="#000">B</text>
<text x="527.27" y="664.90" font-size="18.1" textLength="10.36" lengthAdjust="spacingAndGlyphs" fill="#000">D</text>
<text x="574.78" y="667.00" font-size="18.1" textLength="13.83" lengthAdjust="spacingAndGlyphs" fill="#000">W</text>
<text x="420.91" y="694.40" font-size="18.1" textLength="69.61" lengthAdjust="spacingAndGlyphs" fill="#000">2.0/3.0/4.0</text>
<text x="517.66" y="694.10" font-size="18.1" textLength="28.66" lengthAdjust="spacingAndGlyphs" fill="#000">0.10</text>
<text x="564.90" y="694.80" font-size="18.1" textLength="29.03" lengthAdjust="spacingAndGlyphs" fill="#000">6.50</text>
<rect x="619.00" y="644.70" width="68.70" height="82.60" fill="none" stroke="#000" stroke-width="1.3"/>
<line x1="619.00" y1="672.00" x2="687.70" y2="672.00" stroke="#000" stroke-width="1.2"/>
<line x1="619.00" y1="703.50" x2="687.70" y2="703.50" stroke="#000" stroke-width="1.2"/>
<line x1="653.60" y1="672.00" x2="653.60" y2="727.30" stroke="#000" stroke-width="1.2"/>
<text x="647.35" y="666.80" font-size="18.1" textLength="10.49" lengthAdjust="spacingAndGlyphs" fill="#000">H</text>
<text x="625.65" y="696.20" font-size="18.1" textLength="18.61" lengthAdjust="spacingAndGlyphs" fill="#000">1.0</text>
<text x="659.32" y="696.20" font-size="18.1" textLength="20.17" lengthAdjust="spacingAndGlyphs" fill="#000">2.0</text>
<text x="625.62" y="724.40" font-size="18.1" textLength="19.08" lengthAdjust="spacingAndGlyphs" fill="#000">1.5</text>
<text x="660.12" y="723.00" font-size="18.1" textLength="20.43" lengthAdjust="spacingAndGlyphs" fill="#000">2.5</text>
</svg>
</body></html>
